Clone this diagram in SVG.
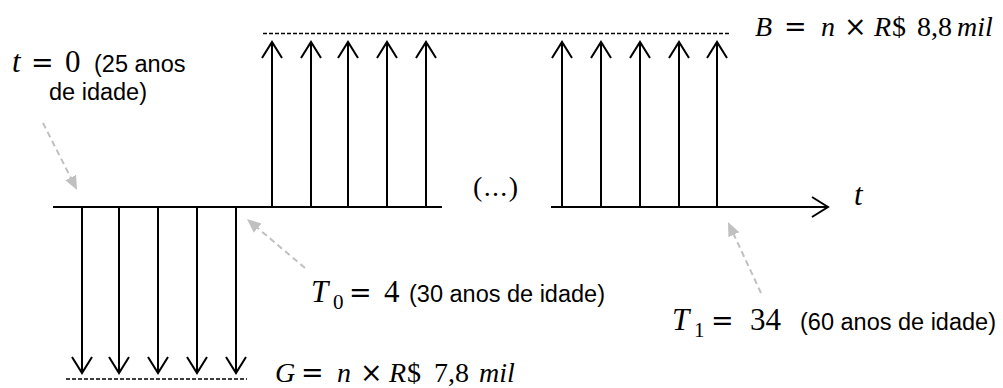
<svg xmlns="http://www.w3.org/2000/svg" width="1003" height="388" viewBox="0 0 1003 388">
<style>
.ax{stroke:#000;stroke-width:2;fill:none}
.ar{stroke:#000;stroke-width:2;fill:none;marker-end:url(#v)}
.dash{stroke:#000;stroke-width:1.5;stroke-dasharray:4 2;fill:none}
.grey{stroke:#c0c0c0;stroke-width:2;stroke-dasharray:6 4;fill:none;marker-end:url(#g)}
.m{font-family:"Liberation Serif","Times New Roman",serif;font-size:28px;fill:#000}
.L{font-size:31px}
.op{font-family:"DejaVu Serif",serif;font-size:27px}
.i{font-style:italic}
.sub{font-size:21px}
.s{font-family:"Liberation Sans",Arial,sans-serif;font-size:23.5px;fill:#000}
</style>
<defs>
<marker id="v" viewBox="-18 -12 20 24" refX="0" refY="0" markerWidth="20" markerHeight="24" markerUnits="userSpaceOnUse" orient="auto" overflow="visible">
<polyline points="-16,-10 0,0 -16,10" fill="none" stroke="#000" stroke-width="2"/>
</marker>
<marker id="g" viewBox="0 -7 16 14" refX="4" refY="0" markerWidth="16" markerHeight="14" markerUnits="userSpaceOnUse" orient="auto">
<path d="M0,-6 L14,0 L0,6 z" fill="#c0c0c0"/>
</marker>
</defs>

<g id="connectors">
<line class="ax" x1="53" y1="207" x2="442" y2="207"/>
<line class="ar" x1="551" y1="207" x2="828" y2="207"/>
<g id="down-arrows">
<line class="ar" x1="82" y1="207" x2="82" y2="373"/>
<line class="ar" x1="119" y1="207" x2="119" y2="373"/>
<line class="ar" x1="158" y1="207" x2="158" y2="373"/>
<line class="ar" x1="197" y1="207" x2="197" y2="373"/>
<line class="ar" x1="236" y1="207" x2="236" y2="373"/>
</g>
<g id="up-arrows">
<line class="ar" x1="272" y1="207" x2="272" y2="42"/>
<line class="ar" x1="311" y1="207" x2="311" y2="42"/>
<line class="ar" x1="348" y1="207" x2="348" y2="42"/>
<line class="ar" x1="387" y1="207" x2="387" y2="42"/>
<line class="ar" x1="426" y1="207" x2="426" y2="42"/>
<line class="ar" x1="562" y1="207" x2="562" y2="42"/>
<line class="ar" x1="601" y1="207" x2="601" y2="42"/>
<line class="ar" x1="640" y1="207" x2="640" y2="42"/>
<line class="ar" x1="679" y1="207" x2="679" y2="42"/>
<line class="ar" x1="717" y1="207" x2="717" y2="42"/>
</g>
<line class="dash" x1="263" y1="33.5" x2="729" y2="33.5"/>
<line class="dash" x1="66" y1="379" x2="247" y2="379"/>
<line class="grey" x1="43" y1="123" x2="72.5" y2="181.1"/>
<line class="grey" x1="305" y1="268" x2="254.6" y2="225.5"/>
<line class="grey" x1="761" y1="293" x2="732.2" y2="231.1"/>
</g>

<g id="label-t0">
<text class="m L"><tspan class="i" x="12" y="72">t</tspan><tspan class="op" x="31" y="72">=</tspan><tspan x="65" y="72">0</tspan></text>
<text class="s" x="94" y="72">(25 anos</text>
<text class="s" x="49" y="100">de idade)</text>
</g>

<g id="label-T0">
<text class="m L"><tspan class="i" x="311" y="302">T</tspan><tspan class="sub" x="333" y="309">0</tspan><tspan class="op" x="349" y="302">=</tspan><tspan x="384" y="302">4</tspan></text>
<text class="s" x="409" y="302">(30 anos de idade)</text>
</g>

<g id="label-T1">
<text class="m L"><tspan class="i" x="672" y="330">T</tspan><tspan class="sub" x="694" y="337">1</tspan><tspan class="op" x="711" y="330">=</tspan><tspan x="750" y="330">34</tspan></text>
<text class="s" x="800" y="330">(60 anos de idade)</text>
</g>

<g id="label-G">
<text class="m"><tspan class="i" x="275" y="382">G</tspan><tspan class="op" x="301" y="382">=</tspan><tspan class="i" x="337" y="382">n</tspan><tspan class="op" x="360" y="382">×</tspan><tspan class="i" x="389" y="382">R</tspan><tspan x="407" y="382">$</tspan><tspan x="434" y="382">7,8</tspan><tspan class="i" x="479" y="382">mil</tspan></text>
</g>

<g id="label-B">
<text class="m"><tspan class="i" x="755" y="36">B</tspan><tspan class="op" x="784" y="36">=</tspan><tspan class="i" x="821" y="36">n</tspan><tspan class="op" x="844" y="36">×</tspan><tspan class="i" x="874" y="36">R</tspan><tspan x="892" y="36">$</tspan><tspan x="917" y="36">8,8</tspan><tspan class="i" x="957" y="36">mil</tspan></text>
</g>

<g id="label-ellipsis">
<text class="m" x="473" y="196" font-size="30" textLength="45" lengthAdjust="spacing">(...)</text>
</g>

<g id="label-t-axis">
<text class="m L i" x="854" y="205">t</text>
</g>
</svg>
